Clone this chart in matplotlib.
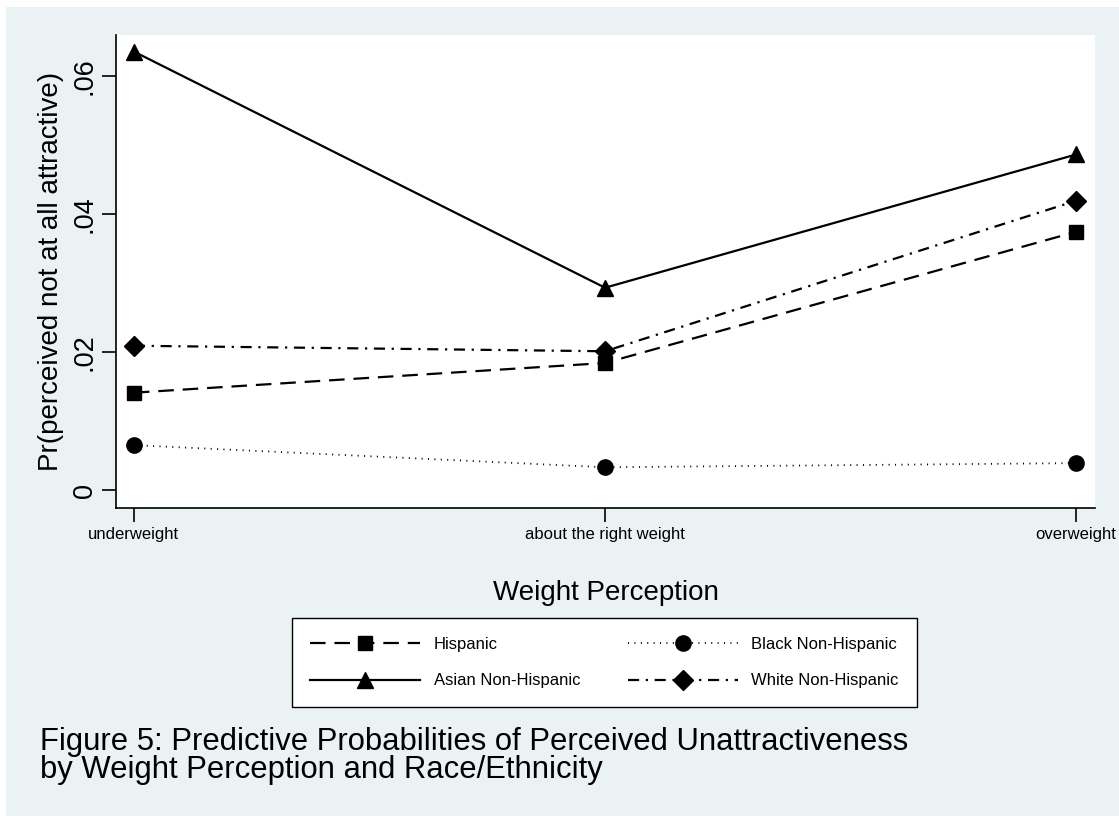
import numpy as np
import matplotlib
matplotlib.use("Agg")
import matplotlib.pyplot as plt

plt.rcParams['font.family'] = ['Liberation Sans', 'DejaVu Sans']

# categories et valeurs
categories = ["underweight", "about the right weight", "overweight"]
hispanic = [0.0141, 0.0184, 0.0374]
black = [0.0065, 0.0033, 0.0039]
asian = [0.0635, 0.0293, 0.0486]
white = [0.0209, 0.0201, 0.0419]
yticks = [0, 0.02, 0.04, 0.06]
ytick_labels = ["0", ".02", ".04", ".06"]

bg = "#EAF2F3"

fig = plt.figure(figsize=(11.19, 8.16), dpi=100)
fig.patch.set_facecolor("white")

# fond bleu clair (style Stata)
ax_bg = fig.add_axes([6/1119, 0, 1, 1 - 7/816], zorder=-1)
ax_bg.set_facecolor(bg)
ax_bg.set_xticks([])
ax_bg.set_yticks([])
for s in ax_bg.spines.values():
    s.set_visible(False)

ax = fig.add_axes([116/1119, 1 - 508/816, 979/1119, 473/816])
ax.set_facecolor("white")

x = np.arange(len(categories))
lw = 1.6
ms = 11
h1, = ax.plot(x, hispanic, color="black", lw=lw, ls=(0, (7, 4)), marker="s", ms=ms*0.95, label="Hispanic")
h2, = ax.plot(x, asian, color="black", lw=lw, ls="-", marker="^", ms=ms, label="Asian Non-Hispanic")
h3, = ax.plot(x, black, color="black", lw=lw*0.8, ls=(0, (0.6, 3)), marker="o", ms=ms, label="Black Non-Hispanic")
h4, = ax.plot(x, white, color="black", lw=lw, ls=(0, (5, 3, 1, 3)), marker="D", ms=ms*0.9, label="White Non-Hispanic")

ax.set_xlim(-0.038, 2.04)
ax.set_ylim(-0.0026, 0.0659)
ax.set_xticks(x)
ax.set_xticklabels(categories, fontsize=12)
ax.set_yticks(yticks)
ax.set_yticklabels(ytick_labels, fontsize=19.5, rotation=90, va="center")
ax.tick_params(axis="both", direction="out", length=10, width=1.2, color="black")
ax.tick_params(axis="x", pad=4)
ax.tick_params(axis="y", pad=3)
for s in ["top", "right"]:
    ax.spines[s].set_visible(False)
for s in ["left", "bottom"]:
    ax.spines[s].set_linewidth(1.2)

ax.set_xlabel("Weight Perception", fontsize=20, labelpad=27)
ax.set_ylabel("Pr(perceived not at all attractive)", fontsize=20, labelpad=6)

leg = fig.legend(handles=[h1, h2, h3, h4], ncol=2, loc="center",
                 bbox_to_anchor=(292/1119, 1 - 708/816, 625/1119, 91/816),
                 mode="expand", fontsize=12, handlelength=6.6, handletextpad=0.8,
                 borderpad=1.1, borderaxespad=0, labelspacing=1.3, fancybox=False, framealpha=1,
                 edgecolor="black", facecolor="white")
leg.get_frame().set_linewidth(1.0)

fig.text(40/1119, 1 - 756/816, "Figure 5: Predictive Probabilities of Perceived Unattractiveness\nby Weight Perception and Race/Ethnicity",
         fontsize=22.3, ha="left", va="center", linespacing=0.92)

fig.savefig("out.png", dpi=100, facecolor=fig.get_facecolor())
